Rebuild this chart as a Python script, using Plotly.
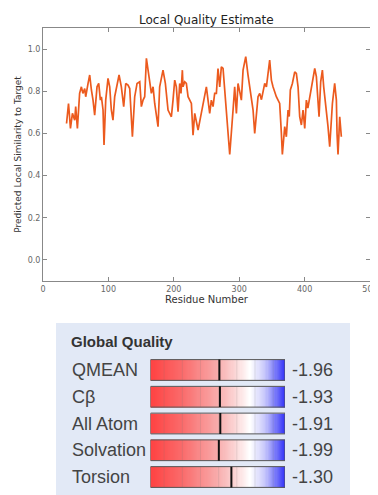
import numpy as np
import plotly.graph_objects as go

# ---- Local quality data (residue number, predicted local similarity) ----
residues = [36, 37.5, 39, 42, 45, 48.5, 50, 52.6, 56, 58.7, 61, 63.8, 65.3, 68.9, 71.4, 74, 76.5, 79, 82.6,
            85.2, 87.7, 89.3, 91.8, 93.3, 95.9, 99.4, 102, 104.5, 107, 109.6, 112.2, 116.3, 119.8, 123.4,
            126.5, 130, 132.6, 136.7, 140.2, 143.8, 147.9, 150.4, 153, 155.5, 158.1, 160.6, 163, 165.7,
            168.3, 170.8, 175.9, 178.4, 183.5, 187.1, 191.2, 196.3, 198.8, 201.4, 203.9, 206.5, 209,
            211, 213.1, 214.1, 216.7, 219.2, 221.8, 226.9, 229.4, 232, 237.1, 242.2, 245.7, 249.8, 254.9,
            257.4, 260, 262.5, 265.1, 267.6, 270.2, 272.7, 275.3, 277.8, 280.4, 285.5, 290.6, 292,
            293.1, 295.7, 298.2, 300.8, 303.3, 305.9, 310, 313.5, 316.1, 321.2, 323.7, 326.3, 328.8,
            331.4, 334, 336.5, 339, 341.6, 346.6, 349.2, 351.7, 356.8, 361.9, 364.5, 366, 369.6, 372.1,
            374.7, 376.5, 378.2, 381.3, 384.9, 387.4, 390, 392.5, 395.1, 397.6, 400.2, 402.7, 405,
            407.8, 410.4, 412.9, 415.5, 418, 422.1, 424.6, 427.2, 429.2, 432.3, 435.8, 438.4, 442.5,
            446, 448.6, 449.6, 451.1, 453.7, 456.2]
similarity = [0.647, 0.690, 0.742, 0.624, 0.695, 0.663, 0.727, 0.624, 0.790, 0.821, 0.790, 0.813, 0.774,
              0.837, 0.877, 0.806, 0.758, 0.687, 0.821, 0.837, 0.758, 0.774, 0.711, 0.545, 0.758, 0.861,
              0.821, 0.711, 0.663, 0.774, 0.821, 0.877, 0.821, 0.727, 0.837, 0.829, 0.813, 0.584, 0.774,
              0.837, 0.845, 0.727, 0.758, 0.774, 0.956, 0.900, 0.860, 0.790, 0.821, 0.742, 0.632, 0.821,
              0.900, 0.837, 0.711, 0.679, 0.758, 0.853, 0.821, 0.703, 0.837, 0.790, 0.900, 0.821, 0.845,
              0.837, 0.774, 0.742, 0.592, 0.695, 0.616, 0.695, 0.758, 0.821, 0.695, 0.758, 0.727, 0.790,
              0.790, 0.908, 0.821, 0.916, 0.908, 0.806, 0.687, 0.500, 0.711, 0.760, 0.821, 0.695, 0.837,
              0.798, 0.758, 0.900, 0.964, 0.877, 0.813, 0.711, 0.600, 0.711, 0.774, 0.790, 0.760, 0.798,
              0.837, 0.821, 0.948, 0.853, 0.821, 0.774, 0.742, 0.600, 0.500, 0.632, 0.584, 0.711, 0.680,
              0.806, 0.837, 0.892, 0.885, 0.821, 0.679, 0.640, 0.711, 0.624, 0.758, 0.720, 0.774, 0.806,
              0.853, 0.908, 0.869, 0.679, 0.845, 0.900, 0.821, 0.742, 0.632, 0.537, 0.742, 0.837, 0.758,
              0.600, 0.500, 0.679, 0.584]

x_ticks = [0, 100, 200, 300, 400, 500]
y_ticks = [0.0, 0.2, 0.4, 0.6, 0.8, 1.0]

# ---- Global quality data ----
gq_labels = ["QMEAN", "Cβ", "All Atom", "Solvation", "Torsion"]
gq_scores = [-1.96, -1.93, -1.91, -1.99, -1.30]
gq_range = [-5.75, 1.65]

# page body has an 8px margin, so the figure is offset by 8px
OFF = 8
W, H = 378 - OFF, 495 - OFF


def px_x(p):
    return (p - OFF) / W


def px_y(p):
    return 1 - (p - OFF) / H


fig = go.Figure()

fig.add_trace(go.Scatter(x=residues, y=similarity, mode="lines",
                         line=dict(color="#ec5a1e", width=1.7), showlegend=False,
                         xaxis="x", yaxis="y"))

grad_x = np.linspace(gq_range[0], gq_range[1], 120)
grad_z = [list(grad_x) for _ in gq_labels]
fig.add_trace(go.Heatmap(x=grad_x, y=list(range(len(gq_labels))), z=grad_z,
                         colorscale=[[0.0, "#ff4242"], [0.25, "#fa6e6e"], [0.5, "#f8acac"],
                                     [0.62, "#fbd3d3"], [0.74, "#ffffff"], [0.85, "#c8c8fb"],
                                     [1.0, "#3434f8"]],
                         showscale=False, ygap=6, hoverinfo="skip",
                         xaxis="x2", yaxis="y2"))

shapes = []
shapes.append(dict(type="rect", xref="paper", yref="paper",
                   x0=px_x(56), x1=px_x(350), y0=0, y1=px_y(323),
                   fillcolor="#e2e9f6", line=dict(width=0), layer="below"))
row_half = 0.5 - 3 / 26.75
for i, s in enumerate(gq_scores):
    for t in range(-5, 2):
        shapes.append(dict(type="line", xref="x2", yref="y2", x0=t, x1=t,
                           y0=i - row_half, y1=i + row_half,
                           line=dict(color="rgba(120,120,120,0.18)", width=1), layer="above"))
    shapes.append(dict(type="rect", xref="x2", yref="y2", x0=gq_range[0], x1=gq_range[1],
                       y0=i - row_half, y1=i + row_half,
                       line=dict(color="#555555", width=1), layer="above"))
    shapes.append(dict(type="line", xref="x2", yref="y2", x0=s, x1=s,
                       y0=i - row_half, y1=i + row_half,
                       line=dict(color="#111111", width=2), layer="above"))

annotations = [
    dict(text="Local Quality Estimate", xref="paper", yref="paper", x=px_x(206), y=px_y(20),
         showarrow=False, font=dict(family="DejaVu Sans", size=12, color="#222222"),
         xanchor="center", yanchor="middle"),
    dict(text="<b>Global Quality</b>", xref="paper", yref="paper", x=px_x(69), y=px_y(341),
         showarrow=False, font=dict(family="Liberation Sans", size=15, color="#333333"),
         xanchor="left", yanchor="middle"),
]
for i, (lab, s) in enumerate(zip(gq_labels, gq_scores)):
    annotations.append(dict(text=lab, xref="paper", yref="y2", x=px_x(70), y=i,
                            showarrow=False, xanchor="left", yanchor="middle",
                            font=dict(family="Liberation Sans", size=18, color="#444444")))
    annotations.append(dict(text=f"{s:.2f}", xref="paper", yref="y2", x=px_x(290), y=i,
                            showarrow=False, xanchor="left", yanchor="middle",
                            font=dict(family="Liberation Sans", size=18, color="#444444")))

axis_common = dict(showgrid=False, zeroline=False, showline=True, linecolor="#888888",
                   linewidth=1, mirror="ticks", ticks="inside", ticklen=4, tickcolor="#888888",
                   tickfont=dict(family="DejaVu Sans", size=8, color="#666666"))

fig.update_layout(
    width=W, height=H,
    margin=dict(l=0, r=0, t=0, b=0),
    paper_bgcolor="white", plot_bgcolor="white",
    showlegend=False,
    xaxis=dict(domain=[px_x(43), px_x(370)], range=[0, 500], tickvals=x_ticks,
               ticktext=[str(v) for v in x_ticks], anchor="y",
               title=dict(text="Residue Number", standoff=2,
                          font=dict(family="DejaVu Sans", size=10, color="#333333")),
               automargin=False, **axis_common),
    yaxis=dict(domain=[px_y(281), px_y(28)], range=[-0.1, 1.1], tickvals=y_ticks,
               ticktext=[f"{v:.1f}" for v in y_ticks], anchor="x",
               title=dict(text="Predicted Local Similarity to Target", standoff=4,
                          font=dict(family="DejaVu Sans", size=9, color="#333333")),
               automargin=False, **axis_common),
    xaxis2=dict(domain=[px_x(150.5), px_x(285)], range=gq_range, anchor="y2",
                visible=False, fixedrange=True),
    yaxis2=dict(domain=[max(0.0, px_y(490.4)), px_y(356.6)], range=[4.5, -0.5], anchor="x2",
                visible=False, fixedrange=True),
    shapes=shapes,
    annotations=annotations,
)

fig.write_html("out.html")
